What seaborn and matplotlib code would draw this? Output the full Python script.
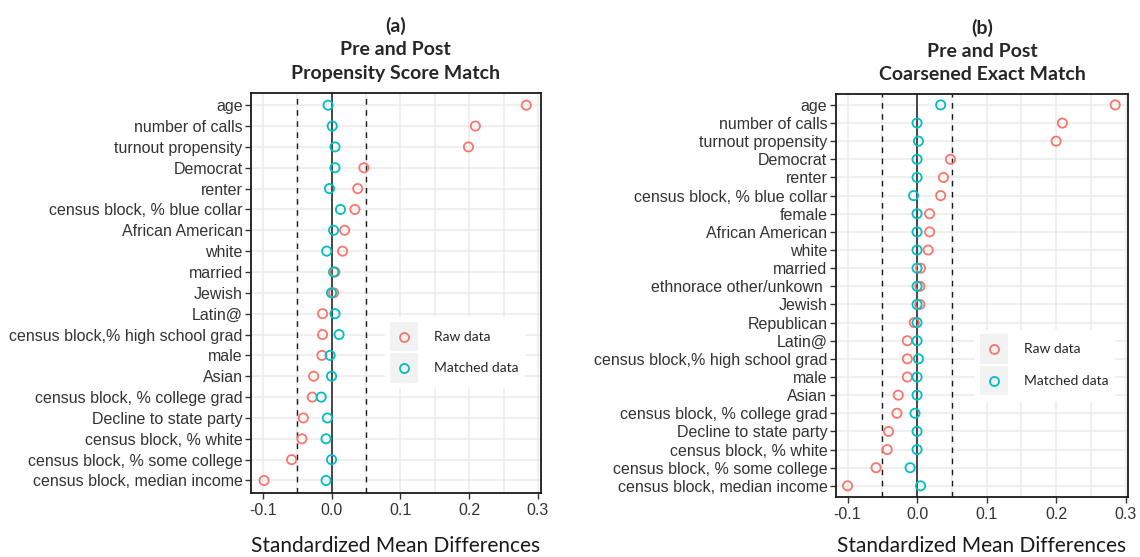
import pandas as pd
import matplotlib
matplotlib.use("Agg")
import matplotlib.pyplot as plt
import seaborn as sns
from matplotlib.ticker import MultipleLocator
from matplotlib.legend_handler import HandlerBase
from matplotlib.patches import Rectangle
from matplotlib.lines import Line2D

# -----------------------------
# DATA
# -----------------------------
labels_a = ["age", "number of calls", "turnout propensity", "Democrat", "renter",
            "census block, % blue collar", "African American", "white", "married",
            "Jewish", "Latin@", "census block,% high school grad", "male", "Asian",
            "census block, % college grad", "Decline to state party",
            "census block, % white", "census block, % some college",
            "census block, median income"]
raw_a = [0.283, 0.209, 0.199, 0.047, 0.038, 0.034, 0.019, 0.016, 0.005, 0.003,
         -0.013, -0.013, -0.014, -0.026, -0.028, -0.041, -0.043, -0.058, -0.098]
matched_a = [-0.005, 0.001, 0.005, 0.005, -0.003, 0.013, 0.003, -0.007, 0.003, 0.0,
             0.005, 0.011, -0.002, 0.0, -0.015, -0.006, -0.008, 0.0, -0.008]

labels_b = ["age", "number of calls", "turnout propensity", "Democrat", "renter",
            "census block, % blue collar", "female", "African American", "white",
            "married", "ethnorace other/unkown ", "Jewish", "Republican", "Latin@",
            "census block,% high school grad", "male", "Asian",
            "census block, % college grad", "Decline to state party",
            "census block, % white", "census block, % some college",
            "census block, median income"]
raw_b = [0.285, 0.209, 0.200, 0.048, 0.038, 0.034, 0.018, 0.018, 0.016, 0.005, 0.004,
         0.004, -0.004, -0.014, -0.014, -0.014, -0.027, -0.029, -0.041, -0.043,
         -0.059, -0.100]
matched_b = [0.034, 0.0, 0.002, 0.0, 0.0, -0.005, 0.0, 0.0, 0.0, 0.0, 0.0, 0.0, 0.0,
             0.0, 0.002, 0.0, 0.0, -0.003, 0.0, 0.0, -0.010, 0.005]

titles = ["(a)\nPre and Post\nPropensity Score Match",
          "(b)\nPre and Post\nCoarsened Exact Match"]
series_names = ["Raw data", "Matched data"]
colors = {"Raw data": "#F8766D", "Matched data": "#00BFC4"}
x_ticks = [-0.1, 0.0, 0.1, 0.2, 0.3]

sns.set_style("white")
plt.rcParams["font.family"] = ["Liberation Sans", "DejaVu Sans"]


# legend key with grey square behind the marker (ggplot look)
class KeyHandler(HandlerBase):
    def create_artists(self, legend, orig_handle, xdescent, ydescent,
                       width, height, fontsize, trans):
        bg = Rectangle((-xdescent, -ydescent), width, height,
                       facecolor="#F2F2F2", edgecolor="none", transform=trans)
        mk = Line2D([width / 2 - xdescent], [height / 2 - ydescent], marker="o",
                    markersize=6.5, markerfacecolor="none",
                    markeredgecolor=orig_handle.get_markeredgecolor(),
                    markeredgewidth=1.3, linestyle="none", transform=trans)
        return [bg, mk]


def draw_panel(ax, labels, raw, matched, title, legend_anchor, xpad):
    df = pd.DataFrame({
        "variable": labels * 2,
        "smd": raw + matched,
        "sample": ["Raw data"] * len(labels) + ["Matched data"] * len(labels),
    })
    for name in series_names:
        sub = df[df["sample"] == name]
        sns.scatterplot(data=sub, x="smd", y="variable", ax=ax, s=44,
                        facecolor="none", edgecolor=colors[name], linewidth=1.3,
                        legend=False, zorder=4)

    n = len(labels)
    ax.set_ylim(n - 1 + 0.6, -0.6)
    ax.set_xlim(-0.117, 0.304)
    ax.set_xticks(x_ticks)
    ax.set_xticklabels([f"{t:.1f}" for t in x_ticks])
    ax.xaxis.set_minor_locator(MultipleLocator(0.05))
    ax.grid(True, which="major", color="#EBEBEB", linewidth=1.1, zorder=0)
    ax.grid(True, which="minor", axis="x", color="#EBEBEB", linewidth=1.1, zorder=0)
    ax.set_axisbelow(True)

    ax.axvline(0, color="#1A1A1A", linewidth=1.1, zorder=2)
    ax.axvline(-0.05, color="#1A1A1A", linewidth=1.0, linestyle=(0, (4, 4)), zorder=2)
    ax.axvline(0.05, color="#1A1A1A", linewidth=1.0, linestyle=(0, (4, 4)), zorder=2)

    for sp in ax.spines.values():
        sp.set_color("#1A1A1A")
        sp.set_linewidth(1.3)
    ax.tick_params(axis="both", which="major", length=4, width=1, color="#333333",
                   labelsize=11.5, labelcolor="#333333", direction="out",
                   left=True, bottom=True)
    ax.tick_params(axis="x", which="minor", length=0)
    ax.tick_params(axis="y", pad=2)

    ax.set_ylabel("")
    ax.set_xlabel("Standardized Mean Differences", fontsize=15, family="Lato",
                  color="#1A1A1A", labelpad=xpad)
    ax.set_title(title, fontsize=14, fontweight="bold", family="Lato",
                 linespacing=1.45, pad=10)

    handles = [Line2D([], [], marker="o", markerfacecolor="none",
                      markeredgecolor=colors[name], linestyle="none")
               for name in series_names]
    leg = ax.legend(handles, series_names, loc="upper left",
                    bbox_to_anchor=legend_anchor, frameon=True,
                    handler_map={Line2D: KeyHandler()},
                    prop={"family": "Lato", "size": 10},
                    handlelength=2.0, handleheight=2.9, labelspacing=0.12,
                    handletextpad=1.2, borderpad=0.35, borderaxespad=0)
    leg.get_frame().set_facecolor("white")
    leg.get_frame().set_edgecolor("white")
    leg.get_frame().set_alpha(1)
    leg.set_zorder(5)


fig = plt.figure(figsize=(11.4, 5.57), dpi=100)
ax_a = fig.add_axes([0.2202, 0.1149, 0.2541, 0.7187])
ax_b = fig.add_axes([0.7331, 0.1082, 0.2567, 0.7230])

draw_panel(ax_a, labels_a, raw_a, matched_a, titles[0], (0.463, 0.44), 13)
draw_panel(ax_b, labels_b, raw_b, matched_b, titles[1], (0.476, 0.415), 10)

plt.savefig("out.png", dpi=100)
plt.close()
